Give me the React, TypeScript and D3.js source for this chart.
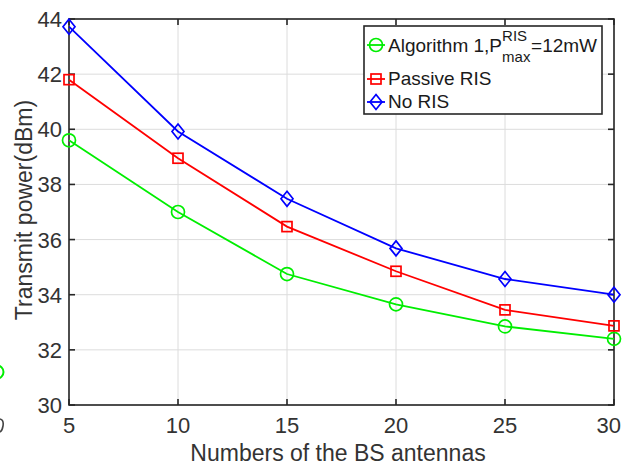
import React, { useEffect, useRef } from 'react';
import * as d3 from 'd3';

const antennas = [5, 10, 15, 20, 25, 30];
const algorithm1 = [39.6, 37.0, 34.75, 33.65, 32.85, 32.4];
const passiveRis = [41.8, 38.95, 36.47, 34.85, 33.45, 32.87];
const noRis = [43.72, 39.92, 37.48, 35.68, 34.57, 34.0];
const xTicks = [5, 10, 15, 20, 25, 30];
const yTicks = [30, 32, 34, 36, 38, 40, 42, 44];

const W = 622;
const H = 467;
const FONT = '"Liberation Sans", Arial, sans-serif';
const TXT = '#333333';

export default function App() {
  const svgRef = useRef<SVGSVGElement>(null);

  useEffect(() => {
    const svg = d3.select(svgRef.current);
    svg.selectAll('*').remove();

    const left = 69, right = 614, top = 19, bottom = 405;
    const x = d3.scaleLinear().domain([5, 30]).range([left, right]);
    const y = d3.scaleLinear().domain([30, 44]).range([bottom, top]);

    svg.append('rect').attr('width', W).attr('height', H).attr('fill', '#fff');

    // leftover bits of the neighbouring figure at the left edge
    svg.append('circle').attr('cx', -3).attr('cy', 372).attr('r', 6.5)
      .attr('fill', 'none').attr('stroke', '#00ee00').attr('stroke-width', 2);
    svg.append('path').attr('d', 'M0,419 Q4,420 3,426 Q2,432 -1,432')
      .attr('fill', 'none').attr('stroke', '#444').attr('stroke-width', 1.6);

    // grid
    const grid = svg.append('g').attr('stroke', '#dcdcdc').attr('stroke-width', 1);
    xTicks.forEach(t => grid.append('line').attr('x1', x(t)).attr('x2', x(t)).attr('y1', top).attr('y2', bottom));
    yTicks.forEach(t => grid.append('line').attr('x1', left).attr('x2', right).attr('y1', y(t)).attr('y2', y(t)));

    // box + ticks
    const ax = svg.append('g').attr('stroke', '#262626').attr('stroke-width', 1.6);
    ax.append('rect').attr('x', left).attr('y', top).attr('width', right - left).attr('height', bottom - top)
      .attr('fill', 'none');
    const tl = 6;
    xTicks.forEach(t => {
      ax.append('line').attr('x1', x(t)).attr('x2', x(t)).attr('y1', bottom).attr('y2', bottom - tl);
      ax.append('line').attr('x1', x(t)).attr('x2', x(t)).attr('y1', top).attr('y2', top + tl);
    });
    yTicks.forEach(t => {
      ax.append('line').attr('x1', left).attr('x2', left + tl).attr('y1', y(t)).attr('y2', y(t));
      ax.append('line').attr('x1', right).attr('x2', right - tl).attr('y1', y(t)).attr('y2', y(t));
    });

    const labels = svg.append('g').attr('font-family', FONT).attr('font-size', 22).attr('fill', TXT);
    xTicks.forEach((t, i) => {
      const last = i === xTicks.length - 1;
      labels.append('text').attr('x', last ? W - 1 : x(t)).attr('y', bottom + 28)
        .attr('text-anchor', last ? 'end' : 'middle').text(t);
    });
    yTicks.forEach(t => labels.append('text').attr('x', left - 7).attr('y', y(t) + 8)
      .attr('text-anchor', 'end').text(t));

    svg.append('text').attr('x', 338).attr('y', 461).attr('text-anchor', 'middle')
      .attr('font-family', FONT).attr('font-size', 23).attr('fill', TXT)
      .text('Numbers of the BS antennas');
    svg.append('text').attr('transform', `translate(32,210) rotate(-90)`)
      .attr('text-anchor', 'middle').attr('font-family', FONT).attr('font-size', 23).attr('fill', TXT)
      .text('Transmit power(dBm)');

    const series = [
      { values: algorithm1, color: '#00ee00', marker: 'circle' },
      { values: passiveRis, color: '#ff0000', marker: 'square' },
      { values: noRis, color: '#0000ff', marker: 'diamond' },
    ];

    const drawMarker = (g: any, kind: string, cx: number, cy: number, color: string) => {
      if (kind === 'circle') {
        g.append('circle').attr('cx', cx).attr('cy', cy).attr('r', 6.5)
          .attr('fill', 'none').attr('stroke', color).attr('stroke-width', 1.7);
      } else if (kind === 'square') {
        g.append('rect').attr('x', cx - 5).attr('y', cy - 5).attr('width', 10).attr('height', 10)
          .attr('fill', 'none').attr('stroke', color).attr('stroke-width', 1.7);
      } else {
        g.append('path').attr('d', `M${cx},${cy - 7.5}L${cx + 6},${cy}L${cx},${cy + 7.5}L${cx - 6},${cy}Z`)
          .attr('fill', 'none').attr('stroke', color).attr('stroke-width', 1.7);
      }
    };

    const line = d3.line<number>().x((_, i) => x(antennas[i])).y(d => y(d));
    series.forEach(s => {
      const g = svg.append('g');
      g.append('path').attr('d', line(s.values)).attr('fill', 'none')
        .attr('stroke', s.color).attr('stroke-width', 1.8);
      s.values.forEach((v, i) => drawMarker(g, s.marker, x(antennas[i]), y(v), s.color));
    });

    // legend
    const lg = svg.append('g').attr('font-family', FONT).attr('fill', '#1a1a1a');
    lg.append('rect').attr('x', 364).attr('y', 26).attr('width', 238).attr('height', 88)
      .attr('fill', '#fff').attr('stroke', '#262626').attr('stroke-width', 1.6);
    const rows = [
      { y: 45, color: '#00ee00', marker: 'circle' },
      { y: 79, color: '#ff0000', marker: 'square' },
      { y: 102, color: '#0000ff', marker: 'diamond' },
    ];
    rows.forEach(r => {
      lg.append('line').attr('x1', 367).attr('x2', 385).attr('y1', r.y).attr('y2', r.y)
        .attr('stroke', r.color).attr('stroke-width', 1.8);
      drawMarker(lg, r.marker, 376, r.y, r.color);
    });
    const t1 = lg.append('text').attr('x', 388).attr('y', 52).attr('font-size', 19).text('Algorithm 1,P');
    const pEnd = 388 + ((t1.node() as SVGTextElement).getComputedTextLength() || 114);
    lg.append('text').attr('x', pEnd).attr('y', 41).attr('font-size', 15).text('RIS');
    lg.append('text').attr('x', pEnd).attr('y', 62).attr('font-size', 15).text('max');
    lg.append('text').attr('x', pEnd + 29).attr('y', 52).attr('font-size', 19).text('=12mW');
    lg.append('text').attr('x', 388).attr('y', 85).attr('font-size', 19).text('Passive RIS');
    lg.append('text').attr('x', 388).attr('y', 108).attr('font-size', 19).text('No RIS');
  }, []);

  return (
    <svg ref={svgRef} width={W} height={H}
      style={{ position: 'absolute', left: 0, top: 0, display: 'block' }} />
  );
}
